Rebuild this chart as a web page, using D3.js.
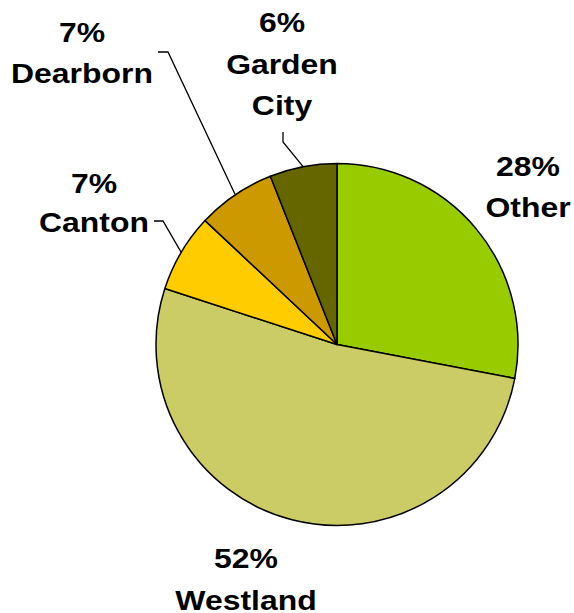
<!DOCTYPE html>
<html><head><meta charset="utf-8">
<script src="https://cdn.jsdelivr.net/npm/d3@7"></script>
<style>html,body{margin:0;padding:0;background:#fff}</style>
</head><body>
<svg id="c" width="574" height="613"></svg>
<script>
const categories = ["Other", "Westland", "Canton", "Dearborn", "Garden City"];
const values = [28, 52, 7, 7, 6];
const colors = ["#99CC00", "#CCCC66", "#FFCC00", "#CC9900", "#666600"];
const nameLines = [["Other"], ["Westland"], ["Canton"], ["Dearborn"], ["Garden", "City"]];

const cx = 337, cy = 344.5, R = 181;
const labelPos = [
  {x: 528, ys: [176, 217]},
  {x: 246, ys: [568, 610]},
  {x: 94, ys: [193, 232]},
  {x: 82, ys: [42, 83]},
  {x: 282, ys: [32, 74, 115]}
];
const leaders = [null, null,
  [[154, 221], [163, 221]],
  [[158, 52], [168, 52]],
  [[283, 132], [283, 142]]
];

const svg = d3.select("#c");
const g = svg.append("g").attr("transform", `translate(${cx},${cy})`);
const pie = d3.pie().sort(null).value(d => d)(values);
const arc = d3.arc().innerRadius(0).outerRadius(R);

g.selectAll("path.slice").data(pie).enter().append("path")
  .attr("class", "slice")
  .attr("d", arc)
  .attr("fill", (d, i) => colors[i])
  .attr("stroke", "#000").attr("stroke-width", 1.5).attr("stroke-linejoin", "round");

pie.forEach((d, i) => {
  if (!leaders[i]) return;
  const a = (d.startAngle + d.endAngle) / 2;
  const p = [cx + R * Math.sin(a), cy - R * Math.cos(a)];
  const pts = leaders[i].concat([p]);
  svg.append("path").attr("d", d3.line()(pts))
    .attr("fill", "none").attr("stroke", "#000").attr("stroke-width", 1.3);
});

const total = d3.sum(values);
pie.forEach((d, i) => {
  const lines = [Math.round(values[i] / total * 100) + "%"].concat(nameLines[i]);
  const lp = labelPos[i];
  lines.forEach((t, k) => {
    svg.append("text")
      .attr("transform", `translate(${lp.x},${lp.ys[k]}) scale(1.14,1)`)
      .attr("text-anchor", "middle")
      .attr("font-family", "'Liberation Sans', Arial, sans-serif")
      .attr("font-weight", "bold").attr("font-size", 28)
      .attr("fill", "#000").text(t);
  });
});
</script>
</body></html>
